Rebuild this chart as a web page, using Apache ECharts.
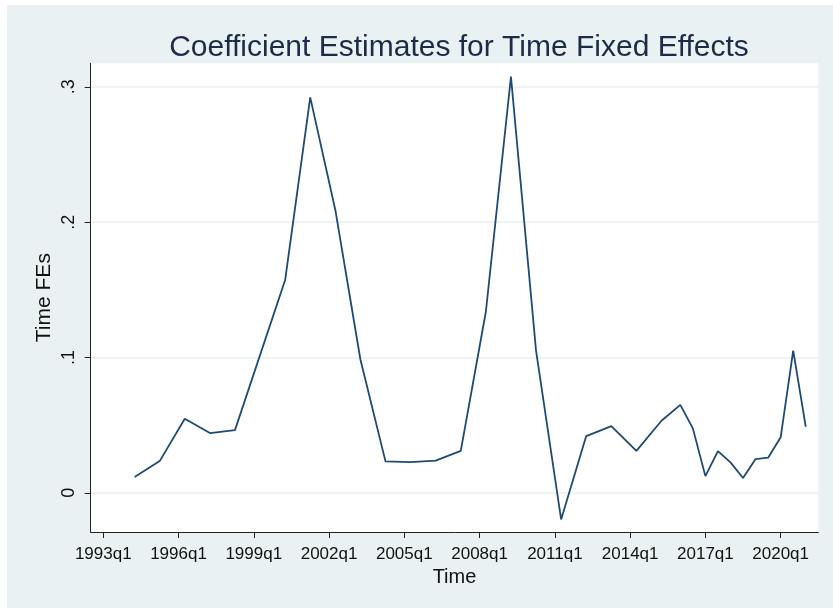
<!DOCTYPE html>
<html>
<head>
<meta charset="utf-8">
<script src="https://cdn.jsdelivr.net/npm/echarts@6/dist/echarts.min.js"></script>
<style>
  html, body { margin: 0; padding: 0; background: #fff; }
  #main { width: 833px; height: 608px; }
</style>
</head>
<body>
<div id="main"></div>
<script>
// periods and estimated time fixed effects
const periods = ['1994q2', '1995q2', '1996q2', '1997q2', '1998q2', '2000q2', '2001q2', '2002q2',
  '2003q2', '2004q2', '2005q2', '2006q2', '2007q2', '2008q2', '2009q2', '2010q2', '2011q2',
  '2012q2', '2013q2', '2014q2', '2015q2', '2016q1', '2016q3', '2017q1', '2017q3', '2018q1',
  '2018q3', '2019q1', '2019q3', '2020q1', '2020q3', '2021q1']
const timeFEs = [0.0116, 0.0234, 0.0547, 0.0441, 0.0463, 0.1572, 0.2922, 0.209,
  0.0985, 0.0232, 0.0227, 0.0237, 0.031, 0.1338, 0.3075, 0.105, -0.0197,
  0.0419, 0.0493, 0.031, 0.0532, 0.065, 0.0476, 0.0123, 0.0308, 0.0225,
  0.0109, 0.0249, 0.0259, 0.041, 0.105, 0.0488]
const xTickLabels = ['1993q1', '1996q1', '1999q1', '2002q1', '2005q1', '2008q1', '2011q1', '2014q1', '2017q1', '2020q1']
const yTicks = [0, 0.1, 0.2, 0.3]

// quarters counted from 1993q1
function qIndex(p) {
  const y = parseInt(p.slice(0, 4))
  const q = parseInt(p.slice(5))
  return (y - 1993) * 4 + (q - 1)
}
const xTicks = xTickLabels.map(qIndex)

const font = "'Liberation Sans', Arial, sans-serif"
const chart = echarts.init(document.getElementById('main'))
chart.setOption({
  backgroundColor: '#fff',
  animation: false,
  graphic: [{
    type: 'rect', z: -10, silent: true,
    shape: { x: 7, y: 5, width: 826, height: 603 },
    style: { fill: '#eaf1f3' }
  }],
  title: {
    text: 'Coefficient Estimates for Time Fixed Effects',
    left: 454, top: 28, textAlign: 'center',
    textStyle: { fontFamily: font, fontSize: 30, fontWeight: 'normal', color: '#1c2b47' }
  },
  grid: {
    left: 90.7, top: 63.3, right: 14.7, bottom: 76,
    show: true, backgroundColor: '#fff', borderWidth: 0
  },
  xAxis: {
    type: 'value', min: -2, max: 114,
    name: 'Time', nameLocation: 'middle', nameGap: 34,
    nameTextStyle: { fontFamily: font, fontSize: 20, color: '#111' },
    axisLine: { show: true, onZero: false, lineStyle: { color: '#222', width: 1 } },
    axisTick: { show: true, length: 6, lineStyle: { color: '#222' }, customValues: xTicks },
    axisLabel: { fontFamily: font, fontSize: 17, color: '#111', margin: 14,
      customValues: xTicks,
      formatter: v => xTickLabels[xTicks.indexOf(v)] },
    splitLine: { show: false }
  },
  yAxis: {
    type: 'value', min: -0.029, max: 0.3174,
    name: 'Time FEs', nameLocation: 'middle', nameGap: 36, nameRotate: 90,
    nameMoveOverlap: false,
    nameTextStyle: { fontFamily: font, fontSize: 21, color: '#111' },
    axisLine: { show: true, onZero: false, lineStyle: { color: '#222', width: 1 } },
    axisTick: { show: true, length: 6, lineStyle: { color: '#222' }, customValues: yTicks },
    axisLabel: { fontFamily: font, fontSize: 18, color: '#111', rotate: 90, margin: 13,
      customValues: yTicks,
      formatter: v => v === 0 ? '0' : String(Math.round(v * 10) / 10).replace('0.', '.') },
    splitLine: { show: true, lineStyle: { color: '#e8f0f2', width: 1.5 } }
  },
  series: [{
    type: 'line',
    data: periods.map((p, i) => [qIndex(p), timeFEs[i]]),
    showSymbol: false,
    lineStyle: { color: '#1f4a73', width: 1.8 }
  }]
})
</script>
</body>
</html>
